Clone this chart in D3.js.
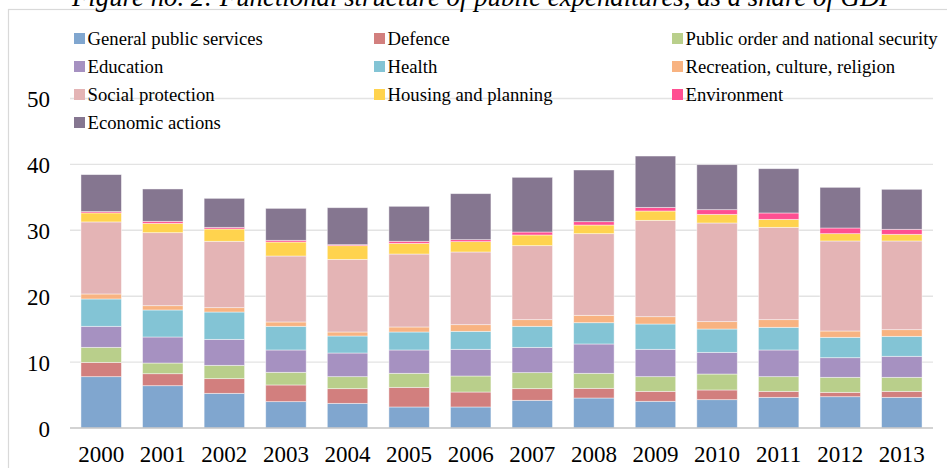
<!DOCTYPE html>
<html>
<head>
<meta charset="utf-8">
<script src="https://cdn.jsdelivr.net/npm/d3@7"></script>
<style>
  html, body { margin: 0; padding: 0; background: #ffffff; }
  svg { display: block; }
  text { font-family: "Liberation Serif", "Times New Roman", serif; fill: #000; }
</style>
</head>
<body>
<svg id="chart" width="947" height="468"></svg>
<script>
const titleText = "Figure no. 2: Functional structure of public expenditures, as a share of GDP";
const years = ["2000","2001","2002","2003","2004","2005","2006","2007","2008","2009","2010","2011","2012","2013"];
const seriesNames = ["General public services","Defence","Public order and national security","Education","Health","Recreation, culture, religion","Social protection","Housing and planning","Environment","Economic actions"];
const generalPublic = [7.79, 6.42, 5.26, 4.00, 3.74, 3.19, 3.19, 4.20, 4.55, 4.05, 4.30, 4.65, 4.75, 4.65];
const defence       = [2.17, 1.82, 2.23, 2.53, 2.23, 2.98, 2.27, 1.77, 1.47, 1.51, 1.47, 0.91, 0.66, 0.91];
const publicOrder   = [2.28, 1.62, 2.02, 1.92, 1.82, 2.13, 2.43, 2.43, 2.28, 2.23, 2.42, 2.23, 2.28, 2.13];
const education     = [3.19, 3.95, 3.94, 3.39, 3.59, 3.54, 4.05, 3.84, 4.45, 4.15, 3.29, 4.05, 2.98, 3.19];
const health        = [4.15, 4.10, 4.15, 3.59, 2.58, 2.73, 2.73, 3.19, 3.23, 3.84, 3.54, 3.44, 3.09, 3.03];
const recreation    = [0.76, 0.65, 0.66, 0.66, 0.61, 0.76, 1.01, 1.01, 1.12, 1.11, 1.12, 1.16, 0.96, 1.01];
const social        = [10.93, 11.08, 10.07, 10.01, 11.02, 11.07, 11.03, 11.23, 12.39, 14.62, 14.97, 14.01, 13.66, 13.46];
const housing       = [1.37, 1.42, 1.87, 2.12, 2.08, 1.62, 1.57, 1.62, 1.31, 1.42, 1.31, 1.21, 1.11, 1.01];
const environment   = [0.20, 0.30, 0.25, 0.26, 0.15, 0.31, 0.30, 0.45, 0.51, 0.55, 0.71, 0.97, 0.86, 0.76];
const economic      = [5.61, 4.91, 4.40, 4.85, 5.61, 5.31, 6.98, 8.30, 7.84, 7.79, 6.83, 6.72, 6.17, 6.07];
const yTicks = [0, 10, 20, 30, 40, 50];

const seriesValues = [generalPublic, defence, publicOrder, education, health, recreation, social, housing, environment, economic];
const colors = ["#80a6cf","#d27f7e","#b9cf8b","#a691c1","#83c4d5","#f8b381","#e4b4b5","#ffd34e","#ff4f92","#857690"];
const SERIF = "'Liberation Serif', 'Times New Roman', serif";

const table = years.map((y, i) => {
  const row = { year: y };
  seriesNames.forEach((s, k) => row[s] = seriesValues[k][i]);
  return row;
});

const svg = d3.select("#chart");

// frame
svg.append("rect")
  .attr("x", 8.5).attr("y", 9.5).attr("width", 960).attr("height", 480)
  .attr("fill", "none").attr("stroke", "#d9d9d9").attr("stroke-width", 1.2);

// title (clipped at top)
svg.append("text")
  .attr("x", 72).attr("y", 5.5)
  .attr("font-family", SERIF)
  .style("font-style", "italic")
  .style("font-size", "26.8px")
  .text(titleText);

const x = d3.scaleBand().domain(years).range([70, 933]).paddingInner(0.343).paddingOuter(0.178);
const y = d3.scaleLinear().domain([0, 50]).range([428, 98.5]);

// gridlines
svg.append("g")
  .selectAll("line")
  .data(yTicks.filter(t => t > 0))
  .join("line")
  .attr("x1", 70).attr("x2", 933)
  .attr("y1", d => y(d)).attr("y2", d => y(d))
  .attr("stroke", "#e3e3e3").attr("stroke-width", 1.4);

// stacked bars
const stack = d3.stack().keys(seriesNames);
const layers = stack(table);
svg.append("g")
  .selectAll("g")
  .data(layers)
  .join("g")
  .attr("fill", (d, i) => colors[i])
  .selectAll("rect")
  .data(d => d)
  .join("rect")
  .attr("x", d => x(d.data.year))
  .attr("width", x.bandwidth())
  .attr("y", d => y(d[1]))
  .attr("height", d => y(d[0]) - y(d[1]))
  .attr("stroke", "rgba(255,255,255,0.55)")
  .attr("stroke-width", 0.8);

// baseline
svg.append("line")
  .attr("x1", 70).attr("x2", 933)
  .attr("y1", y(0)).attr("y2", y(0))
  .attr("stroke", "#c4c4c4").attr("stroke-width", 1.5);

// y axis labels
const yAxis = d3.axisLeft(y).tickValues(yTicks).tickSize(0).tickPadding(0);
const yg = svg.append("g").attr("transform", "translate(50,0)").call(yAxis);
yg.attr("font-family", SERIF);
yg.select(".domain").remove();
yg.selectAll("text")
  .attr("font-family", SERIF)
  .style("font-size", "23px")
  .attr("fill", "#000")
  .attr("dy", "0.35em");

// x axis labels
const xAxis = d3.axisBottom(x).tickSize(0).tickPadding(0);
const xg = svg.append("g").attr("transform", "translate(0,446)").call(xAxis);
xg.attr("font-family", SERIF);
xg.select(".domain").remove();
xg.selectAll("text")
  .attr("font-family", SERIF)
  .style("font-size", "23px")
  .attr("fill", "#000")
  .attr("dy", "0.71em");

// legend
const legendCols = [74, 374, 672];
const legendRows = [38.5, 66.5, 94.5, 122.5];
const lg = svg.append("g");
seriesNames.forEach((s, i) => {
  const col = i % 3, row = Math.floor(i / 3);
  const g = lg.append("g").attr("transform", `translate(${legendCols[col]},${legendRows[row]})`);
  g.append("rect").attr("x", 0).attr("y", -5.5).attr("width", 11).attr("height", 11).attr("fill", colors[i]);
  g.append("text").attr("x", 13.5).attr("y", 0).attr("dy", "0.33em")
    .attr("font-family", SERIF)
    .style("font-size", "18.7px").text(s);
});
</script>
</body>
</html>
